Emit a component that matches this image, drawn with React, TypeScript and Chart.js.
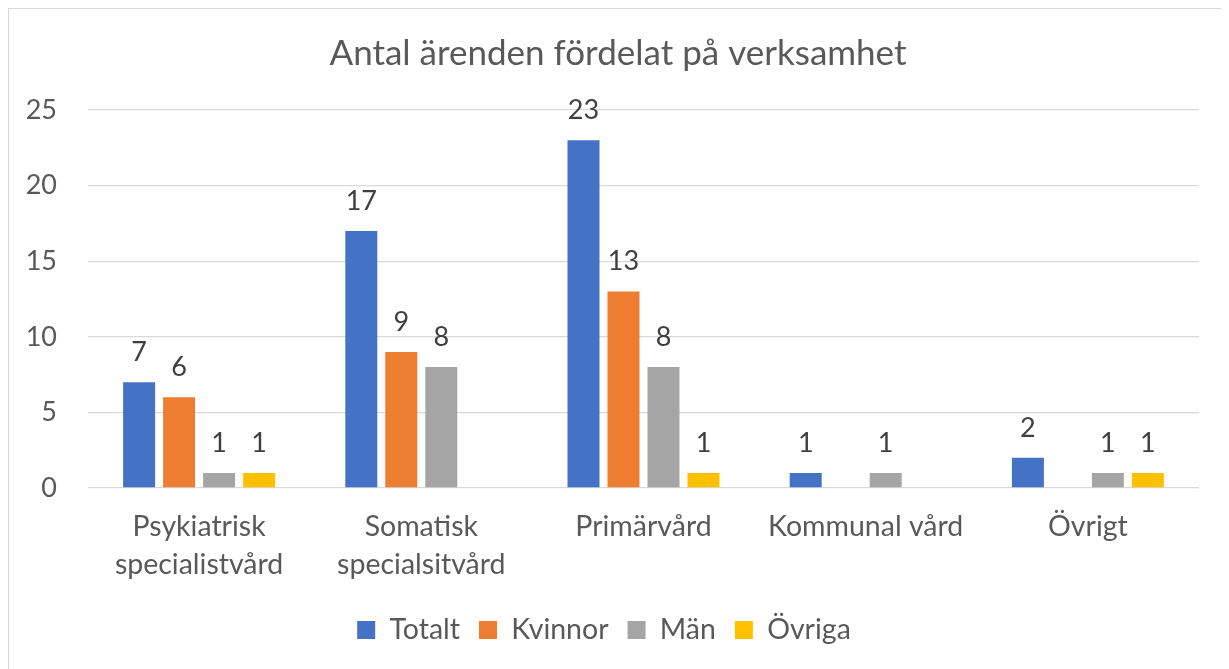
import React, { useEffect, useRef } from "react";
import { Chart, registerables } from "chart.js";

Chart.register(...registerables);

const categories: string[][] = [
  ["Psykiatrisk", "specialistvård"],
  ["Somatisk", "specialsitvård"],
  ["Primärvård"],
  ["Kommunal vård"],
  ["Övrigt"],
];
const totalt = [7, 17, 23, 1, 2];
const kvinnor = [6, 9, 13, null, null];
const man = [1, 8, 8, 1, 1];
const ovriga = [1, null, 1, null, 1];
const titleText = "Antal ärenden fördelat på verksamhet";

const FONT = "Lato";
const TEXT = "#595959";

const dataLabels = {
  id: "dataLabels",
  afterLayout(chart: any) {
    const t = chart.titleBlock;
    if (t) {
      t.left = 0;
      t.right = chart.width + 5;
    }
  },
  afterDatasetsDraw(chart: any) {
    const ctx = chart.ctx;
    ctx.save();
    ctx.font = `27px ${FONT}`;
    ctx.fillStyle = "#404040";
    ctx.textAlign = "center";
    ctx.textBaseline = "alphabetic";
    chart.data.datasets.forEach((ds: any, i: number) => {
      const meta = chart.getDatasetMeta(i);
      meta.data.forEach((bar: any, j: number) => {
        const v = ds.data[j];
        if (v === null || v === undefined) return;
        ctx.fillText(String(v), bar.x, bar.y - 21);
      });
    });
    ctx.restore();
  },
};

export default function App() {
  const ref = useRef<HTMLCanvasElement>(null);
  useEffect(() => {
    document.body.style.overflow = "hidden";
    const chart = new Chart(ref.current!, {
      type: "bar",
      data: {
        labels: categories,
        datasets: [
          { label: "Totalt", data: totalt, backgroundColor: "#4472C4" },
          { label: "Kvinnor", data: kvinnor, backgroundColor: "#ED7D31" },
          { label: "Män", data: man, backgroundColor: "#A5A5A5" },
          { label: "Övriga", data: ovriga, backgroundColor: "#FFC000" },
        ],
      },
      plugins: [dataLabels],
      options: {
        animation: false,
        responsive: false,
        maintainAspectRatio: false,
        layout: { padding: { left: 0, right: 23, top: 0, bottom: 14.75 } },
        datasets: {
          bar: { categoryPercentage: 0.72, barPercentage: 0.8 },
        },
        plugins: {
          title: {
            display: true,
            text: titleText,
            color: TEXT,
            font: { family: FONT, size: 35, weight: "normal", lineHeight: 1.2 },
            padding: { top: 24, bottom: 35 },
          },
          legend: {
            position: "bottom",
            labels: {
              color: TEXT,
              font: { family: FONT, size: 28.5 },
              boxWidth: 18,
              boxHeight: 18,
              padding: 19,
            },
          },
          tooltip: { enabled: false },
        },
        scales: {
          x: {
            grid: { display: false, drawTicks: false },
            border: { display: false },
            ticks: {
              color: TEXT,
              font: { family: FONT, size: 28.5, lineHeight: 38 / 28.5 },
              padding: 20,
              maxRotation: 0,
              autoSkip: false,
            },
            afterFit: (s: any) => {
              s.height = 108.75;
            },
          },
          y: {
            min: 0,
            max: 25,
            ticks: {
              stepSize: 5,
              color: TEXT,
              font: { family: FONT, size: 27 },
              padding: 31,
            },
            grid: { color: "#D9D9D9", lineWidth: 1.3, drawTicks: false },
            border: { display: false },
            afterFit: (s: any) => {
              s.width = 79;
            },
          },
        },
      },
    });
    return () => chart.destroy();
  }, []);
  return (
    <div
      style={{
        width: 1213,
        height: 660,
        border: "1px solid #D9D9D9",
        background: "#fff",
      }}
    >
      <canvas ref={ref} width={1213} height={660} style={{ display: "block" }} />
    </div>
  );
}
